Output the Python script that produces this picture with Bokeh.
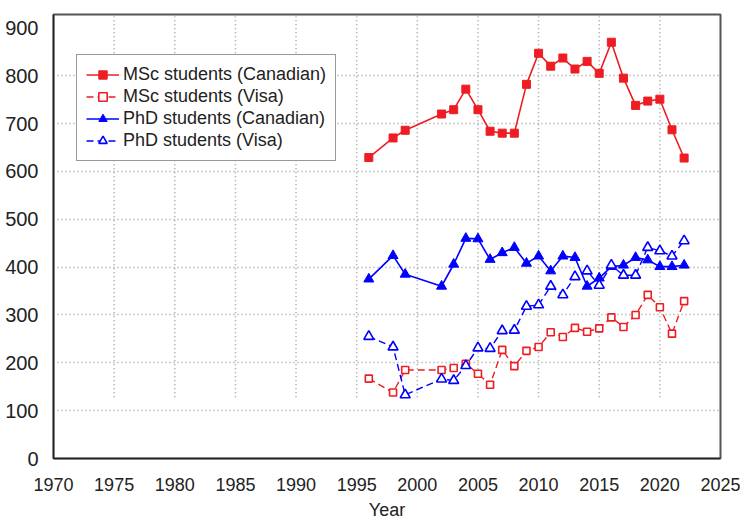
from bokeh.plotting import figure
from bokeh.models import FixedTicker, Legend, LegendItem, Range1d
from bokeh.embed import file_html
from bokeh.resources import INLINE

# ---- data ----
years = [1996, 1998, 1999, 2002, 2003, 2004, 2005, 2006, 2007, 2008, 2009, 2010,
         2011, 2012, 2013, 2014, 2015, 2016, 2017, 2018, 2019, 2020, 2021, 2022]
msc_canadian = [629, 670, 686, 720, 729, 772, 729, 684, 680, 680, 782, 847,
                820, 837, 814, 830, 805, 870, 795, 738, 747, 751, 687, 628]
msc_visa = [167, 138, 185, 185, 189, 198, 177, 154, 227, 193, 225, 233,
            264, 254, 273, 265, 272, 295, 275, 300, 342, 316, 261, 329]
phd_canadian = [375, 424, 385, 360, 406, 460, 459, 416, 430, 441, 408, 423,
                392, 423, 420, 360, 377, 401, 404, 420, 415, 401, 401, 404]
phd_visa = [255, 233, 133, 166, 163, 194, 231, 230, 267, 268, 318, 321,
            360, 342, 380, 392, 362, 404, 383, 383, 441, 434, 423, 455]

x_ticks = list(range(1970, 2026, 5))
y_ticks = list(range(0, 901, 100))
grid_x = list(range(1975, 2021, 5))
grid_y = list(range(100, 801, 100))

RED = "#EE1D23"
BLUE = "#0000FF"
FONT = "Liberation Sans"

p = figure(width=740, height=525, output_backend="svg", toolbar_location=None,
           x_range=Range1d(1970, 2025), y_range=Range1d(0, 928),
           min_border_left=53, min_border_right=20, min_border_top=14,
           min_border_bottom=67)
p.background_fill_color = "white"
p.border_fill_color = "white"
p.outline_line_color = "#555555"
p.outline_line_width = 2

# grid
p.xgrid.visible = False
p.ygrid.ticker = FixedTicker(ticks=grid_y)
p.ygrid.grid_line_color = "#9a9a9a"
p.ygrid.grid_line_dash = "1 3"
p.ygrid.grid_line_width = 1.5
p.segment(x0=grid_x, x1=grid_x, y0=[128] * len(grid_x), y1=[924] * len(grid_x),
          line_color="#9a9a9a", line_dash="1 3", line_width=1.5)

# axes
for ax in (p.xaxis[0], p.yaxis[0]):
    ax.major_tick_line_color = None
    ax.minor_tick_line_color = None
    ax.axis_line_color = "#222222"
    ax.axis_line_width = 1.5
    ax.major_label_text_font = FONT
    ax.major_label_text_color = "#222222"
p.xaxis.major_label_text_font_size = "18px"
p.yaxis.major_label_text_font_size = "20px"
p.xaxis.ticker = FixedTicker(ticks=x_ticks)
p.yaxis.ticker = FixedTicker(ticks=y_ticks)
p.xaxis.major_label_standoff = 13
p.yaxis.major_label_standoff = 9
p.xaxis.axis_label = "Year"
p.xaxis.axis_label_text_font = FONT
p.xaxis.axis_label_text_font_size = "18px"
p.xaxis.axis_label_text_font_style = "normal"
p.xaxis.axis_label_text_color = "#222222"
p.xaxis.axis_label_standoff = 6

# series
l1 = p.line(years, msc_canadian, line_color=RED, line_width=1.6)
m1 = p.scatter(years, msc_canadian, marker="square", size=8, fill_color=RED, line_color=RED)
l2 = p.line(years, msc_visa, line_color=RED, line_width=1.4, line_dash="7 4")
m2 = p.scatter(years, msc_visa, marker="square", size=7, fill_color="white",
               line_color=RED, line_width=1.6)
l3 = p.line(years, phd_canadian, line_color=BLUE, line_width=1.6)
m3 = p.scatter(years, phd_canadian, marker="triangle", size=10, fill_color=BLUE, line_color=BLUE)
l4 = p.line(years, phd_visa, line_color=BLUE, line_width=1.4, line_dash="7 4")
m4 = p.scatter(years, phd_visa, marker="triangle", size=10, fill_color="white",
               line_color=BLUE, line_width=1.6)

legend = Legend(items=[
    LegendItem(label="MSc students (Canadian)", renderers=[l1, m1]),
    LegendItem(label="MSc students (Visa)", renderers=[l2, m2]),
    LegendItem(label="PhD students (Canadian)", renderers=[l3, m3]),
    LegendItem(label="PhD students (Visa)", renderers=[l4, m4]),
], location=(23, 297))
legend.label_text_font = FONT
legend.label_text_font_size = "18px"
legend.label_text_color = "#222222"
legend.label_height = 21
legend.glyph_height = 21
legend.glyph_width = 33
legend.label_standoff = 4
legend.spacing = 1
legend.padding = 9
legend.margin = 0
legend.border_line_color = "#333333"
legend.border_line_width = 1.5
legend.background_fill_alpha = 1.0
p.add_layout(legend, "center")

open("out.html", "w").write(file_html(p, INLINE))
